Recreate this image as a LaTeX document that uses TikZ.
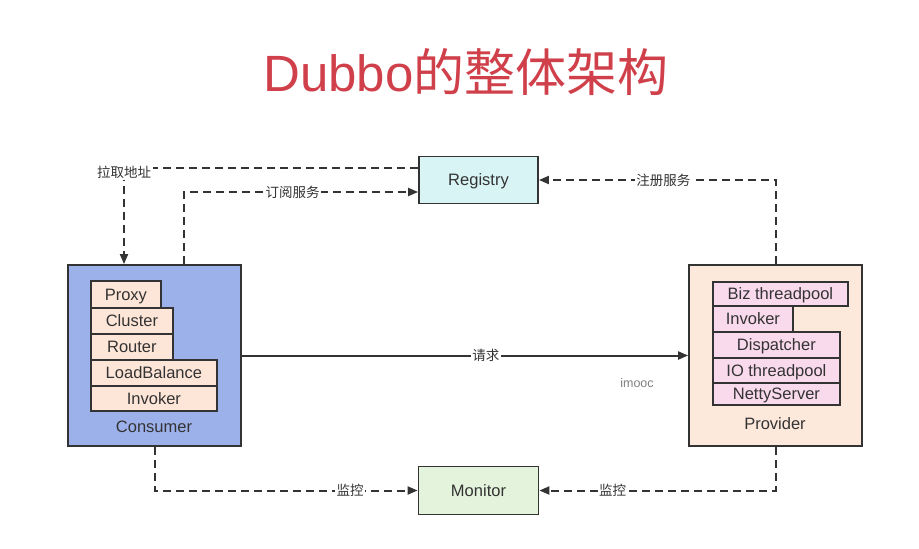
\documentclass[tikz,border=0pt]{standalone}
\usepackage{xcolor}
\usepackage{fontspec}
\setmainfont{Liberation Sans}
\newfontfamily\cjk{Noto Sans CJK SC}
\usepackage{tikz}
\usetikzlibrary{arrows.meta, positioning}
\definecolor{ink}{RGB}{51,51,51}
\definecolor{titlered}{RGB}{208,64,74}
\definecolor{regfill}{RGB}{216,244,244}
\definecolor{monfill}{RGB}{228,243,220}
\definecolor{consfill}{RGB}{156,176,234}
\definecolor{provfill}{RGB}{253,232,220}
\definecolor{layerfill}{RGB}{253,230,216}
\definecolor{poolfill}{RGB}{249,217,236}
\tikzstyle{box} = [draw=ink,line width=1.8pt,text=ink,inner sep=0pt,text depth=0pt,font=\fontsize{16.5}{19}\selectfont]
\tikzstyle{layer} = [box,anchor=north west,fill=layerfill]
\tikzstyle{pool} = [box,anchor=north west,fill=poolfill]
\tikzstyle{link} = [draw=ink,line width=2pt,-{Triangle[length=10pt,width=8pt]}]
\tikzstyle{dlink} = [link,dash pattern=on 8pt off 5pt]
\tikzstyle{tag} = [fill=white,text=ink,inner sep=1.5pt,font=\fontsize{13.5}{15}\selectfont\cjk]

\begin{document}
\begin{tikzpicture}[x=1pt,y=-1pt]
                \useasboundingbox (0,0) rectangle (919,549);
                \node[text=titlered,font=\fontsize{51}{60}\selectfont] (title) at (466,72) {Dubbo{\cjk 的整体架构}};
                % registry and monitor
                \node[box,fill=regfill,minimum width=119pt,minimum height=47pt] (registry) at (478.5,180) {Registry};
                \node[box,fill=monfill,minimum width=120pt,minimum height=48pt] (monitor) at (478.5,490.5) {Monitor};
                % consumer side
                \node[box,fill=consfill,minimum width=173pt,minimum height=181pt] (consumer) at (154.5,355.5) {};
                \node[text=ink,text depth=0pt,font=\fontsize{16.5}{19}\selectfont] (consumerlabel) at (154,427) {Consumer};
                \node[layer,minimum width=70pt,minimum height=27pt] (proxy) at (90,280) {Proxy};
                \node[layer,minimum width=82pt,minimum height=26pt] (cluster) at (90,307) {Cluster};
                \node[layer,minimum width=82pt,minimum height=26pt] (router) at (90,333) {Router};
                \node[layer,minimum width=126pt,minimum height=26pt] (loadbalance) at (90,359) {LoadBalance};
                \node[layer,minimum width=126pt,minimum height=25pt] (cinvoker) at (90,385) {Invoker};
                % provider side
                \node[box,fill=provfill,minimum width=173pt,minimum height=181pt] (provider) at (775.5,355.5) {};
                \node[text=ink,text depth=0pt,font=\fontsize{16.5}{19}\selectfont] (providerlabel) at (775,424) {Provider};
                \node[pool,minimum width=135pt,minimum height=24pt] (bizpool) at (712,281) {Biz threadpool};
                \node[pool,minimum width=80pt,minimum height=26pt] (pinvoker) at (712,305) {Invoker};
                \node[pool,minimum width=127pt,minimum height=26pt] (dispatcher) at (712,331) {Dispatcher};
                \node[pool,minimum width=127pt,minimum height=25pt] (iopool) at (712,357) {IO threadpool};
                \node[pool,minimum width=127pt,minimum height=22pt] (netty) at (712,382) {NettyServer};
                \node[text=gray,font=\fontsize{12.5}{15}\selectfont] (imooc) at (637,383) {imooc};
                % connectors
                \draw[dlink] ([yshift=12pt]registry.west) -| node[tag,pos=0.5,yshift=-4pt] {拉取地址} ([xshift=-30.5pt]consumer.north);
                \draw[dlink] ([xshift=29.5pt]consumer.north) |- node[tag,pos=0.732] {订阅服务} ([yshift=-12pt]registry.west);
                \draw[dlink] (provider.north) |- node[tag,pos=0.737] {注册服务} (registry.east);
                \draw[link] (consumer.east) -- node[tag,pos=0.547] {请求} (provider.west);
                \draw[dlink] (consumer.south) |- node[tag,pos=0.872] {监控} (monitor.west);
                \draw[dlink] (provider.south) |- node[tag,pos=0.845] {监控} (monitor.east);
            \end{tikzpicture}
\end{document}
